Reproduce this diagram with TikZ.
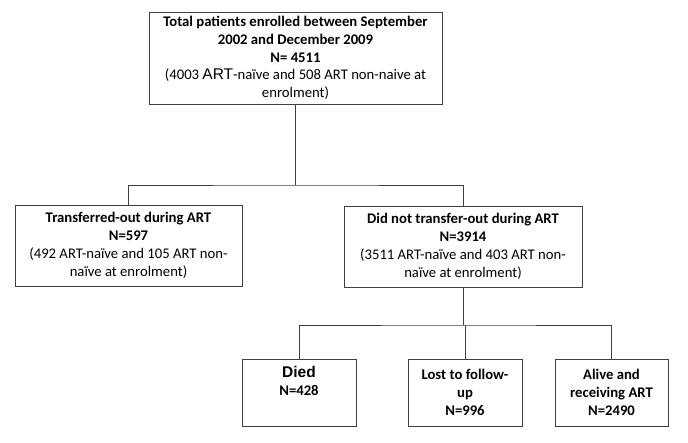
\documentclass[tikz,border=0pt]{standalone}
\usepackage{fontspec}
\setmainfont{Carlito}
\newfontfamily\arialf{Liberation Sans}
\begin{document}
\begin{tikzpicture}[x=1pt,y=1pt,
  box/.style={draw=black!75, line width=0.9pt, align=center, inner sep=2pt,
    font=\fontsize{14.7}{17.8}\selectfont},
  conn/.style={draw=black!75, line width=0.8pt}]
\useasboundingbox[fill=white] (0,0) rectangle (688,-442);
\node[box, minimum width=293, minimum height=92] (top) at (295.5,-58)
  {\textbf{Total patients enrolled between September}\\
   \textbf{2002 and December 2009}\\
   \textbf{N= 4511}\\
   (4003 {\arialf\fontsize{15.5}{17.8}\selectfont ART}-naïve and 508 ART non-naive at\\
   enrolment)};
\node[box, minimum width=227, minimum height=81] (left) at (128.5,-245.5)
  {\textbf{Transferred-out during ART}\\
   \textbf{N=597}\\
   (492 ART-naïve and 105 ART non-\\
   naïve at enrolment)};
\node[box, minimum width=238, minimum height=81] (right) at (463,-246.5)
  {\textbf{Did not transfer-out during ART}\\
   \textbf{N=3914}\\
   (3511 ART-naïve and 403 ART non-\\
   naïve at enrolment)};
\node[box, minimum width=114, minimum height=67] (died) at (299,-392.5)
  {{\arialf\bfseries\fontsize{15.5}{17.8}\selectfont Died}\\
   \textbf{N=428}\\ \strut};
\node[box, minimum width=114, minimum height=67] (lost) at (465,-392.5)
  {\textbf{Lost to follow-}\\
   \textbf{up}\\
   \textbf{N=996}};
\node[box, minimum width=113, minimum height=67] (alive) at (611.5,-392.5)
  {\textbf{Alive and}\\
   \textbf{receiving ART}\\
   \textbf{N=2490}};
\coordinate (j1) at (296,-185);
\coordinate (j2) at (462,-325);
\draw[conn] (top.south) -- (top.south |- j1);
\draw[conn] (left.north) |- (j1) -| (right.north);
\draw[conn] (right.south) -- (right.south |- j2);
\draw[conn] (died.north) |- (j2) -| (alive.north);
\draw[conn] (lost.north) -- (lost.north |- j2);
\end{tikzpicture}
\end{document}
